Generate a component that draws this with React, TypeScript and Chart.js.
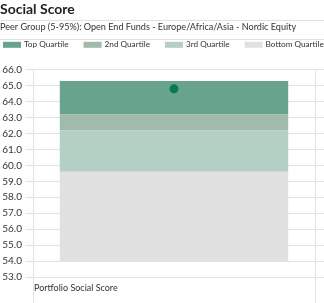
import React, { useEffect, useRef } from "react";
import { Chart, registerables } from "chart.js";

Chart.register(...registerables);

const titleText = "Social Score";
const subtitleText = "Peer Group (5-95%): Open End Funds - Europe/Africa/Asia - Nordic Equity";
const categories = ["Portfolio Social Score"];
const quartileNames = ["Top Quartile", "2nd Quartile", "3rd Quartile", "Bottom Quartile"];
const quartileLow = [63.2, 62.2, 59.6, 54.0];
const quartileHigh = [65.3, 63.2, 62.2, 59.6];
const quartileColors = ["#68a38d", "#a0bbac", "#b4d0c5", "#e1e1e1"];
const portfolioScore = [64.8];
const yMin = 53;
const yMax = 66;

const FONT = "Lato, 'Open Sans', sans-serif";
const TEXT = "#333333";
const GRID = "#e2e2e2";

// Draws the separator rules and a flat-box legend (one row, left aligned)
const headerLegend = {
  id: "headerLegend",
  afterDraw(chart: any) {
    const ctx = chart.ctx;
    const tb = chart.titleBlock;
    const base = tb ? tb.bottom : 23;
    ctx.save();
    ctx.strokeStyle = "#e0e0e0";
    ctx.lineWidth = 1;
    const y1 = Math.round(base) - 1.5;
    ctx.beginPath();
    ctx.moveTo(0, y1);
    ctx.lineTo(chart.width, y1);
    ctx.stroke();
    const y2 = Math.round(base) + 17.5;
    ctx.beginPath();
    ctx.moveTo(0, y2);
    ctx.lineTo(chart.width, y2);
    ctx.stroke();

    const cy = base + 23;
    ctx.font = `8.2px ${FONT}`;
    ctx.textBaseline = "middle";
    ctx.textAlign = "left";
    let x = 3;
    chart.data.datasets.forEach((ds: any) => {
      if (ds.type !== "bar") return;
      ctx.fillStyle = ds.backgroundColor;
      ctx.fillRect(x, cy - 3, 18, 6);
      ctx.fillStyle = TEXT;
      ctx.fillText(ds.label, x + 21, cy);
      x += 21 + ctx.measureText(ds.label).width + 15;
    });
    ctx.restore();
  },
};

export default function App() {
  const ref = useRef<HTMLCanvasElement>(null);
  useEffect(() => {
    document.body.style.margin = "0";
    const datasets: any[] = quartileNames.map((name, i) => ({
      type: "bar",
      label: name,
      data: categories.map(() => [quartileLow[i], quartileHigh[i]]),
      backgroundColor: quartileColors[i],
      borderWidth: 0,
      grouped: false,
      barPercentage: 0.9,
      categoryPercentage: 0.9,
      order: 2,
    }));
    datasets.unshift({
      type: "line",
      label: "Portfolio",
      data: portfolioScore,
      showLine: false,
      pointRadius: 4.5,
      pointBackgroundColor: "#0a7a50",
      pointBorderWidth: 0,
      order: 0,
    });
    const chart = new Chart(ref.current as HTMLCanvasElement, {
      type: "bar",
      data: { labels: categories, datasets },
      plugins: [headerLegend],
      options: {
        animation: false,
        responsive: false,
        layout: { padding: 0 },
        plugins: {
          tooltip: { enabled: false },
          legend: { display: false },
          title: {
            display: true,
            text: titleText,
            align: "start",
            color: "#222",
            font: { family: FONT, size: 14, weight: "bold" },
            padding: { top: 1, bottom: 4 },
          },
          subtitle: {
            display: true,
            text: subtitleText,
            align: "start",
            color: TEXT,
            font: { family: FONT, size: 9.1 },
            padding: { top: 0, bottom: 37 },
          },
        },
        scales: {
          x: {
            type: "category",
            offset: true,
            grid: { offset: true, color: GRID, tickLength: 26, tickColor: GRID },
            border: { display: false },
            ticks: { align: "start", labelOffset: -140, padding: -20, color: TEXT, font: { family: FONT, size: 9 } },
            afterFit: (axis: any) => { axis.height = 26; },
          },
          y: {
            type: "linear",
            min: yMin,
            max: yMax,
            grid: { color: GRID, tickLength: 8, tickColor: GRID },
            border: { color: GRID },
            ticks: {
              stepSize: 1,
              autoSkip: false,
              padding: 3,
              color: TEXT,
              font: { family: FONT, size: 10 },
              callback: (v: any) => Number(v).toFixed(1),
            },
            afterFit: (axis: any) => { axis.width = 33; },
          },
          y2: {
            type: "linear",
            position: "right",
            min: yMin,
            max: yMax,
            grid: { drawOnChartArea: false, color: GRID, tickLength: 9, tickColor: GRID },
            border: { color: GRID },
            ticks: { display: false, stepSize: 1, autoSkip: false },
            afterFit: (axis: any) => { axis.width = 9; },
          },
        },
      },
    } as any);
    return () => chart.destroy();
  }, []);
  return (
    <div style={{ width: 324, height: 303 }}>
      <canvas ref={ref} width={324} height={303} style={{ width: 324, height: 303, display: "block" }} />
    </div>
  );
}
